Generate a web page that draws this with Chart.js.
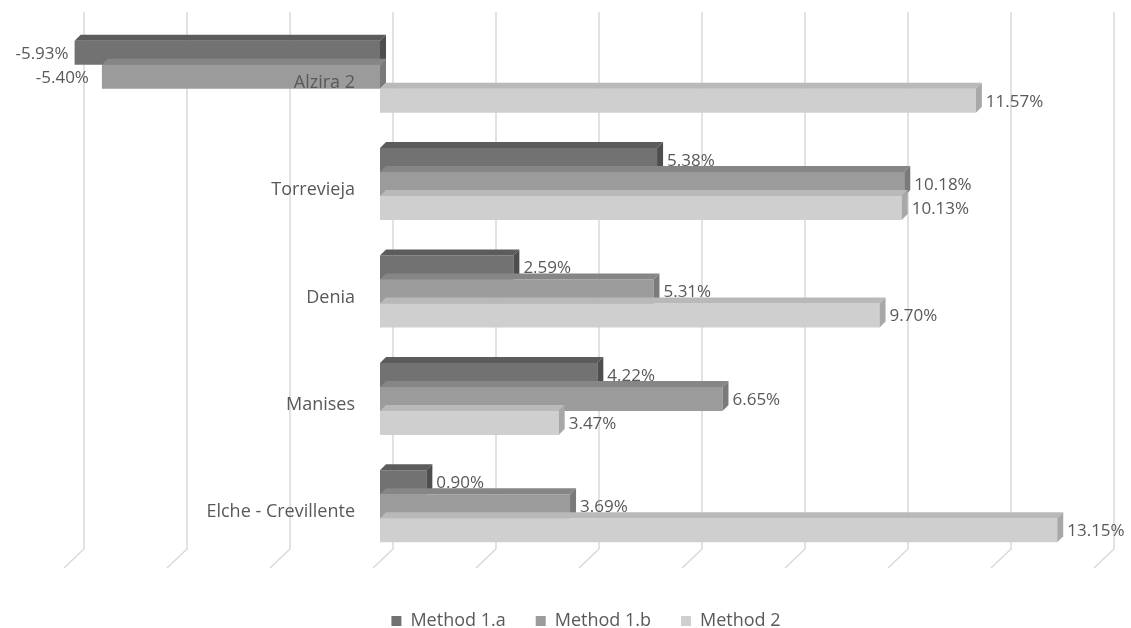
<!DOCTYPE html>
<html>
<head>
<meta charset="utf-8">
<script src="https://cdn.jsdelivr.net/npm/chart.js@4.4.1/dist/chart.umd.min.js"></script>
<style>
    html, body { margin: 0; padding: 0; background: #ffffff; }
    #wrap { width: 1131px; height: 628px; position: relative; }
</style>
</head>
<body>
<div id="wrap"><canvas id="myChart" width="1131" height="628"></canvas></div>
<script>
// DATA
const hospitals = ['Alzira 2', 'Torrevieja', 'Denia', 'Manises', 'Elche - Crevillente'];
const method1a = [-5.93, 5.38, 2.59, 4.22, 0.90];
const method1b = [-5.40, 10.18, 5.31, 6.65, 3.69];
const method2 = [11.57, 10.13, 9.70, 3.47, 13.15];
const seriesNames = ['Method 1.a', 'Method 1.b', 'Method 2'];

// colours: front, top face, side face
const fronts = ['#727272', '#9b9b9b', '#cfcfcf'];
const tops = ['#5c5c5c', '#868686', '#b9b9b9'];
const sides = ['#4e4e4e', '#7a7a7a', '#a8a8a8'];

const DX = 6, DY = 6; // depth of the fake 3D

// slanted gridlines like the excel 3D wall/floor
const gridPlugin = {
    id: 'slantGrid',
    beforeDatasetsDraw(chart) {
        const ctx = chart.ctx;
        const x = chart.scales.x;
        const area = chart.chartArea;
        ctx.save();
        ctx.strokeStyle = '#d9d9d9';
        ctx.lineWidth = 1.5;
        x.ticks.forEach(function (t) {
            const px = x.getPixelForValue(t.value);
            ctx.beginPath();
            ctx.moveTo(px + 13, area.top - 11);
            ctx.lineTo(px + 13, area.bottom - 11);
            ctx.lineTo(px - 7, area.bottom + 8);
            ctx.stroke();
        });
        ctx.restore();
    }
};

// top and side faces of each bar
const boxPlugin = {
    id: 'box3d',
    afterDatasetsDraw(chart) {
        const ctx = chart.ctx;
        ctx.save();
        chart.data.datasets.forEach(function (ds, i) {
            chart.getDatasetMeta(i).data.forEach(function (bar) {
                const p = bar.getProps(['x', 'y', 'base', 'height'], true);
                const x0 = Math.min(p.x, p.base), x1 = Math.max(p.x, p.base);
                const top = p.y - p.height / 2, bottom = p.y + p.height / 2;
                ctx.fillStyle = tops[i];
                ctx.beginPath();
                ctx.moveTo(x0, top);
                ctx.lineTo(x0 + DX, top - DY);
                ctx.lineTo(x1 + DX, top - DY);
                ctx.lineTo(x1, top);
                ctx.closePath();
                ctx.fill();
                ctx.fillStyle = sides[i];
                ctx.beginPath();
                ctx.moveTo(x1, top);
                ctx.lineTo(x1 + DX, top - DY);
                ctx.lineTo(x1 + DX, bottom - DY);
                ctx.lineTo(x1, bottom);
                ctx.closePath();
                ctx.fill();
            });
        });
        ctx.restore();
    }
};

// value labels after each bar + category names left of the zero line
const labelPlugin = {
    id: 'valueLabels',
    afterDatasetsDraw(chart) {
        const ctx = chart.ctx;
        const xs = chart.scales.x, ys = chart.scales.y;
        ctx.save();
        ctx.fillStyle = '#595959';
        ctx.textBaseline = 'middle';

        ctx.font = '18px "Open Sans", sans-serif';
        ctx.textAlign = 'right';
        const zero = xs.getPixelForValue(0);
        chart.data.labels.forEach(function (lab, k) {
            ctx.fillText(lab, zero - 25, ys.getPixelForTick(k) + 6);
        });

        ctx.font = '17px "Open Sans", sans-serif';
        chart.data.datasets.forEach(function (ds, i) {
            chart.getDatasetMeta(i).data.forEach(function (bar, j) {
                const v = ds.data[j];
                const txt = v.toFixed(2) + '%';
                if (v >= 0) {
                    ctx.textAlign = 'left';
                    ctx.fillText(txt, bar.x + DX + 4, bar.y + 1);
                } else {
                    ctx.textAlign = 'right';
                    ctx.fillText(txt, bar.x - (i === 0 ? 6 : 13), bar.y + 1);
                }
            });
        });
        ctx.restore();
    }
};

const datasets = [method1a, method1b, method2].map(function (vals, i) {
    return {
        label: seriesNames[i],
        data: vals,
        backgroundColor: fronts[i],
        borderWidth: 0,
        categoryPercentage: 0.67,
        barPercentage: 1.0
    };
});

const myChart = new Chart(document.getElementById('myChart'), {
    type: 'bar',
    data: {
        labels: hospitals,
        datasets: datasets
    },
    options: {
        indexAxis: 'y',
        responsive: false,
        animation: false,
        layout: {
            padding: { left: 71, right: 30, top: 23, bottom: -12 }
        },
        scales: {
            x: {
                min: -6,
                max: 14,
                afterFit: function (scale) { scale.height = 22; },
                ticks: { display: false, stepSize: 2 },
                grid: { display: false },
                border: { display: false }
            },
            y: {
                afterFit: function (scale) { scale.width = 0; },
                grid: { display: false, drawTicks: false },
                border: { display: false },
                ticks: { display: false }
            }
        },
        plugins: {
            legend: {
                position: 'bottom',
                labels: {
                    boxWidth: 10,
                    boxHeight: 10,
                    padding: 30,
                    color: '#595959',
                    font: { family: '"Open Sans", sans-serif', size: 18 }
                }
            },
            tooltip: { enabled: false }
        }
    },
    plugins: [gridPlugin, boxPlugin, labelPlugin]
});
</script>
</body>
</html>
